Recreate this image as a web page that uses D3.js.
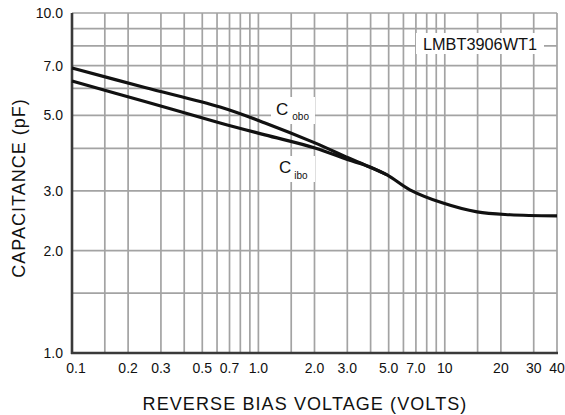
<!DOCTYPE html>
<html><head><meta charset="utf-8">
<script src="https://cdn.jsdelivr.net/npm/d3@7"></script>
<style>html,body{margin:0;padding:0;background:#fff;}svg{display:block;font-family:"Liberation Sans",Arial,sans-serif;}</style>
</head><body><svg id="c" width="565" height="415"></svg>
<script>
// Data
const coboV = [0.1, 0.246, 0.623, 1.085, 2.01, 3.03, 3.73, 4.9, 6.5, 9.78, 14.9, 22.4, 40];
const coboC = [6.89, 6.04, 5.29, 4.75, 4.15, 3.75, 3.57, 3.34, 3.02, 2.76, 2.60, 2.55, 2.53];
const ciboV = [0.1, 0.246, 0.623, 1.085, 2.01, 3.03, 3.73, 4.9];
const ciboC = [6.31, 5.49, 4.75, 4.38, 4.01, 3.70, 3.57, 3.34];
const xTickLabels = ["0.1","0.2","0.3","0.5","0.7","1.0","2.0","3.0","5.0","7.0","10","20","30","40"];
const yTickLabels = ["1.0","2.0","3.0","5.0","7.0","10.0"];
const xGrid = [0.15,0.2,0.3,0.4,0.5,0.6,0.7,0.8,0.9,1,1.5,2,3,4,5,6,7,8,9,10,15,20,30,40];
const yGrid = [1.5,2,3,4,5,6,7,8,9,10];

const svg = d3.select("#c");
const L = 72, R = 557, T = 13, B = 353;
const x = d3.scaleLog().domain([0.1, 40]).range([L, R]);
const y = d3.scaleLog().domain([1, 10]).range([B, T]);

const g = svg.append("g");
// grid
g.selectAll(".vg").data(xGrid).join("line")
  .attr("x1", d => x(d)).attr("x2", d => x(d)).attr("y1", T).attr("y2", B)
  .attr("stroke", "#a3a3a3").attr("stroke-width", 1.7);
g.selectAll(".hg").data(yGrid).join("line")
  .attr("y1", d => y(d)).attr("y2", d => y(d)).attr("x1", L).attr("x2", R)
  .attr("stroke", "#a3a3a3").attr("stroke-width", 1.7);

// axes (thick)
g.append("line").attr("x1", L).attr("x2", L).attr("y1", T).attr("y2", B + 1)
  .attr("stroke", "#3a3a3a").attr("stroke-width", 2.6);
g.append("line").attr("x1", L - 1).attr("x2", R + 1).attr("y1", B).attr("y2", B)
  .attr("stroke", "#3a3a3a").attr("stroke-width", 2.6);

// tick labels
svg.selectAll(".xt").data(xTickLabels).join("text")
  .attr("x", (d, i) => x(+d) + (i === 0 ? 4 : 0)).attr("y", 373)
  .attr("text-anchor", "middle").attr("font-size", 14).attr("fill", "#111").text(d => d);
svg.selectAll(".yt").data(yTickLabels).join("text")
  .attr("x", 63).attr("y", d => y(+d) + 5)
  .attr("text-anchor", "end").attr("font-size", 14).attr("fill", "#111").text(d => d);

// axis titles
svg.append("text").attr("x", 305).attr("y", 410).attr("text-anchor", "middle")
  .attr("font-size", 18).attr("letter-spacing", 1.1).attr("fill", "#111").text("REVERSE BIAS VOLTAGE (VOLTS)");
svg.append("text").attr("transform", "translate(25,188) rotate(-90)").attr("text-anchor", "middle")
  .attr("font-size", 18).attr("letter-spacing", 1.0).attr("fill", "#111").text("CAPACITANCE (pF)");

// label boxes
svg.append("rect").attr("x", 416).attr("y", 33).attr("width", 128).attr("height", 21).attr("fill", "#fff");
svg.append("text").attr("x", 423).attr("y", 49.5)
  .attr("font-size", 17).attr("textLength", 114).attr("lengthAdjust", "spacingAndGlyphs")
  .attr("fill", "#111").text("LMBT3906WT1");

svg.append("rect").attr("x", 271).attr("y", 97).attr("width", 44).attr("height", 27).attr("fill", "#fff");
svg.append("rect").attr("x", 273).attr("y", 156).attr("width", 42).attr("height", 26).attr("fill", "#fff");

// curves
const line = d3.line().x(d => x(d[0])).y(d => y(d[1])).curve(d3.curveCatmullRom.alpha(0.5));
svg.append("path").datum(coboV.map((v, i) => [v, coboC[i]])).attr("d", line)
  .attr("fill", "none").attr("stroke", "#111").attr("stroke-width", 3.2);
svg.append("path").datum(ciboV.map((v, i) => [v, ciboC[i]])).attr("d", line)
  .attr("fill", "none").attr("stroke", "#111").attr("stroke-width", 3.2);

// series labels
const c1 = svg.append("text").attr("x", 276).attr("y", 115).attr("font-size", 17).attr("fill", "#111");
c1.append("tspan").text("C");
c1.append("tspan").attr("dx", 4).attr("dy", 5).attr("font-size", 10).text("obo");
const c2 = svg.append("text").attr("x", 279).attr("y", 173).attr("font-size", 17).attr("fill", "#111");
c2.append("tspan").text("C");
c2.append("tspan").attr("dx", 3).attr("dy", 6).attr("font-size", 10).text("ibo");
</script></body></html>
